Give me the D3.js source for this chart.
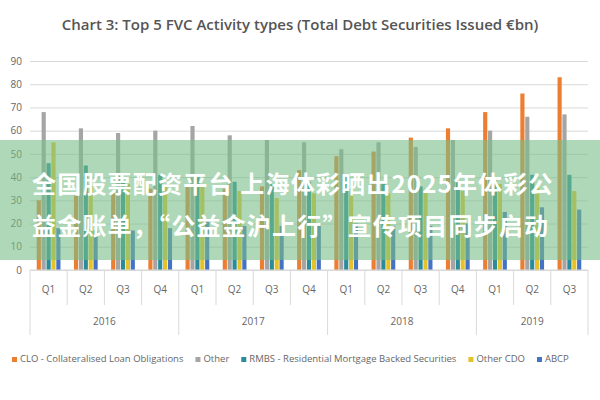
<!DOCTYPE html>
<html><head><meta charset="utf-8">
<script src="https://cdn.jsdelivr.net/npm/d3@7"></script>
<style>body{margin:0;background:#fff}text{font-family:"Open Sans",sans-serif}</style>
</head><body><svg id="c" width="600" height="400"></svg>
<script>
const quarters = ["Q1","Q2","Q3","Q4","Q1","Q2","Q3","Q4","Q1","Q2","Q3","Q4","Q1","Q2","Q3"];
const years    = ["2016","2017","2018","2019"];
const legendLabels = ["CLO - Collateralised Loan Obligations","Other","RMBS - Residential Mortgage Backed Securities","Other CDO","ABCP"];
const colors   = ["#ED7D31","#A5A5A5","#2A8C9A","#E6C229","#4472C4"];
const clo   = [30,32,33,35,36,35,36,43,49,51,57,61,68,76,83];
const other = [68,61,59,60,62,58,56,55,52,55,53,56,60,66,67];
const rmbs  = [46,45,38,41,40,38,37,38,40,38,36,38,40,41,41];
const ocdo  = [55,37,37,36,36,34,31,33,35,33,35,34,37,36,34];
const abcp  = [18,17,17,18,21,19,19,19,20,19,19,20,25,27,26];
const series = [clo, other, rmbs, ocdo, abcp];

const svg = d3.select("#c");
const m = {l:30, r:588, t:61, b:270};
const x = d3.scaleBand().domain(d3.range(quarters.length)).range([m.l, m.r]);
const xi = d3.scaleBand().domain(d3.range(5)).range([6, x.bandwidth()-6]).padding(0.15);
const y = d3.scaleLinear().domain([0,90]).range([m.b, m.t]);

svg.append("text").attr("x",300).attr("y",30).attr("text-anchor","middle")
  .attr("font-size",15).attr("font-weight",600).attr("fill","#555")
  .text("Chart 3: Top 5 FVC Activity types (Total Debt Securities Issued €bn)");

const ya = svg.append("g").attr("transform",`translate(${m.l},0)`)
  .call(d3.axisLeft(y).ticks(9).tickSize(-(m.r-m.l)).tickPadding(8));
ya.select(".domain").remove();
ya.selectAll("line").attr("stroke","#d9d9d9");
ya.selectAll("text").attr("fill","#666").attr("font-size",10);

const g = svg.append("g");
series.forEach((s,si) => {
  g.selectAll(null).data(s).join("rect")
    .attr("x",(d,i)=>x(i)+xi(si)).attr("width",xi.bandwidth())
    .attr("y",d=>y(d)).attr("height",d=>m.b-y(d)).attr("fill",colors[si]);
});

// category axis
const ax = svg.append("g");
ax.append("line").attr("x1",m.l).attr("x2",m.r).attr("y1",m.b).attr("y2",m.b).attr("stroke","#d9d9d9");
d3.range(quarters.length+1).forEach(i=>{
  const xx = i<quarters.length ? x(i) : m.r;
  ax.append("line").attr("x1",xx).attr("x2",xx).attr("y1",m.b).attr("y2",305).attr("stroke","#d9d9d9");
});
[0,4,8,12,15].forEach(i=>{
  const xx = i<quarters.length ? x(i) : m.r;
  ax.append("line").attr("x1",xx).attr("x2",xx).attr("y1",305).attr("y2",335).attr("stroke","#d9d9d9");
});
ax.selectAll(null).data(quarters).join("text")
  .attr("x",(d,i)=>x(i)+x.bandwidth()/2).attr("y",293).attr("text-anchor","middle")
  .attr("font-size",10).attr("fill","#666").text(d=>d);
years.forEach((yr,k)=>{
  const a=[0,4,8,12][k], b=[4,8,12,15][k];
  const x1=x(a), x2= b<quarters.length?x(b):m.r;
  ax.append("text").attr("x",(x1+x2)/2).attr("y",325).attr("text-anchor","middle")
    .attr("font-size",10).attr("fill","#666").text(yr);
});

// legend
const lg = svg.append("g").attr("transform","translate(12,361)");
let lx = 0;
legendLabels.forEach((t,i)=>{
  lg.append("rect").attr("x",lx).attr("y",-4).attr("width",5).attr("height",5).attr("fill",colors[i]);
  const tx = lg.append("text").attr("x",lx+8).attr("y",1).attr("font-size",9.5).attr("fill","#666").text(t);
  lx += tx.node().getComputedTextLength() + 20;
});

// overlay banner
svg.append("rect").attr("x",0).attr("y",140).attr("width",600).attr("height",120).attr("fill","rgba(120,190,135,0.6)");
["全国股票配资平台 上海体彩晒出2025年体彩公","益金账单，“公益金沪上行”宣传项目同步启动"].forEach((t,i)=>{
  svg.append("text").attr("x",32).attr("y",193+i*42).attr("font-size",24).attr("font-weight",700)
    .attr("letter-spacing",1.2).attr("fill","#fff")
    .style("font-family","'Noto Sans CJK SC',sans-serif").text(t);
});
</script></body></html>
